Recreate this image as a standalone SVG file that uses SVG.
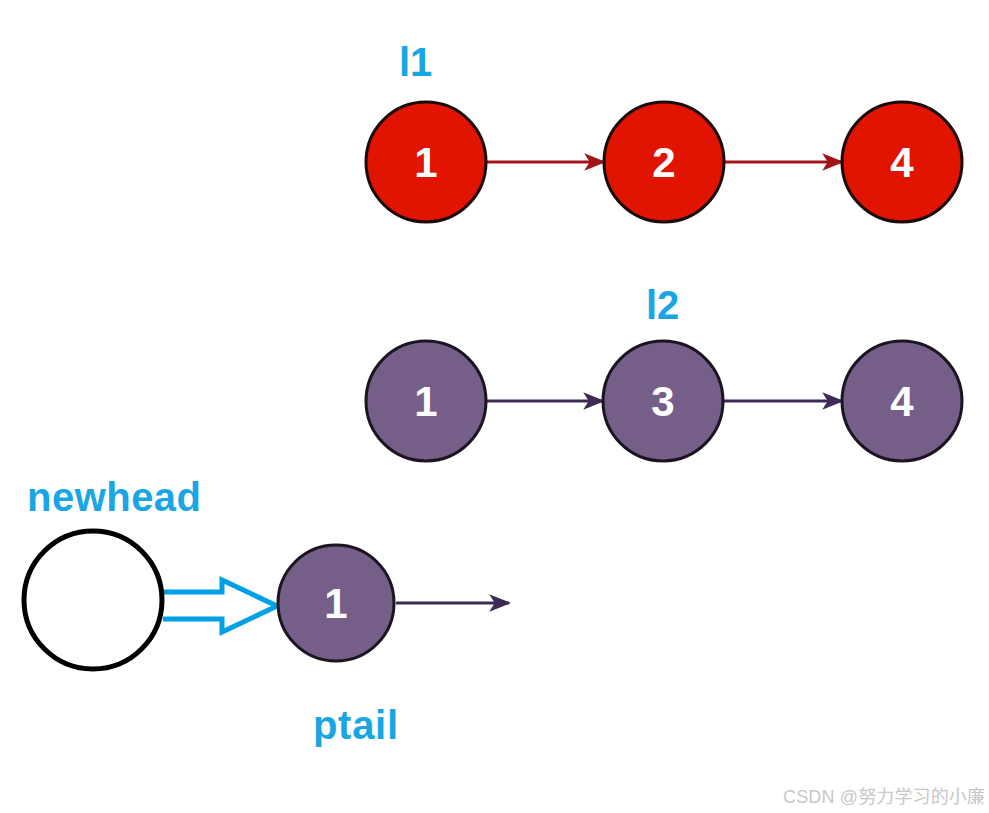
<svg xmlns="http://www.w3.org/2000/svg" width="989" height="813" viewBox="0 0 989 813">
<defs>
<style>
.red{fill:#e01400;stroke:#1a0a0a;stroke-width:3}
.pur{fill:#755e87;stroke:#1a1520;stroke-width:3}
.num{font-family:"Liberation Sans",Arial,sans-serif;font-weight:bold;font-size:42px;fill:#ffffff;text-anchor:middle}
.lbl{font-family:"Liberation Sans",Arial,sans-serif;font-weight:bold;font-size:40px;fill:#1aa6e4}
.lr{stroke:#a0141a;stroke-width:3;fill:none;marker-end:url(#ar)}
.lp{stroke:#3e2b55;stroke-width:3;fill:none;marker-end:url(#ap)}
</style>
<marker id="ar" viewBox="0 0 20 20" refX="18" refY="10" markerWidth="22" markerHeight="22" markerUnits="userSpaceOnUse" orient="auto"><path d="M0,2 L20,10 L0,18 L5,10 Z" fill="#a0141a"/></marker>
<marker id="ap" viewBox="0 0 20 20" refX="18" refY="10" markerWidth="22" markerHeight="22" markerUnits="userSpaceOnUse" orient="auto"><path d="M0,2 L20,10 L0,18 L5,10 Z" fill="#3e2b55"/></marker>
</defs>
<rect width="989" height="813" fill="#ffffff"/>
<g id="connectors">
<line class="lr" x1="486" y1="162" x2="604" y2="162"/>
<line class="lr" x1="724" y1="162" x2="842" y2="162"/>
<line class="lp" x1="486" y1="401" x2="603" y2="401"/>
<line class="lp" x1="723" y1="401" x2="842" y2="401"/>
<line class="lp" x1="396" y1="603" x2="509" y2="603"/>
<path id="blue-arrow" d="M163,592 L222,592 L222,580 L277,606 L222,632 L222,619 L163,619" fill="none" stroke="#00a0e6" stroke-width="5" stroke-linejoin="miter"/>
</g>
<g id="label-l1"><text class="lbl" x="399" y="76">l1</text></g>
<g id="l1-n1"><circle class="red" cx="426" cy="162" r="60"/><text class="num" x="426" y="177">1</text></g>
<g id="l1-n2"><circle class="red" cx="664" cy="162" r="60"/><text class="num" x="664" y="177">2</text></g>
<g id="l1-n4"><circle class="red" cx="902" cy="162" r="60"/><text class="num" x="902" y="177">4</text></g>
<g id="label-l2"><text class="lbl" x="646" y="319">l2</text></g>
<g id="l2-n1"><circle class="pur" cx="426" cy="401" r="60"/><text class="num" x="426" y="416">1</text></g>
<g id="l2-n3"><circle class="pur" cx="663" cy="401" r="60"/><text class="num" x="663" y="416">3</text></g>
<g id="l2-n4"><circle class="pur" cx="902" cy="401" r="60"/><text class="num" x="902" y="416">4</text></g>
<g id="newhead"><text class="lbl" x="27" y="511" textLength="174">newhead</text><circle cx="93" cy="600" r="69" fill="none" stroke="#000000" stroke-width="5"/></g>
<g id="ptail-node"><circle class="pur" cx="336" cy="603" r="58"/><text class="num" x="336" y="618">1</text><text class="lbl" x="313" y="739" textLength="85">ptail</text></g>
<text x="783" y="803" font-family="'Liberation Sans','Noto Sans CJK SC',sans-serif" font-size="18" fill="#c8c8c8" textLength="202">CSDN @努力学习的小廉</text>
</svg>
